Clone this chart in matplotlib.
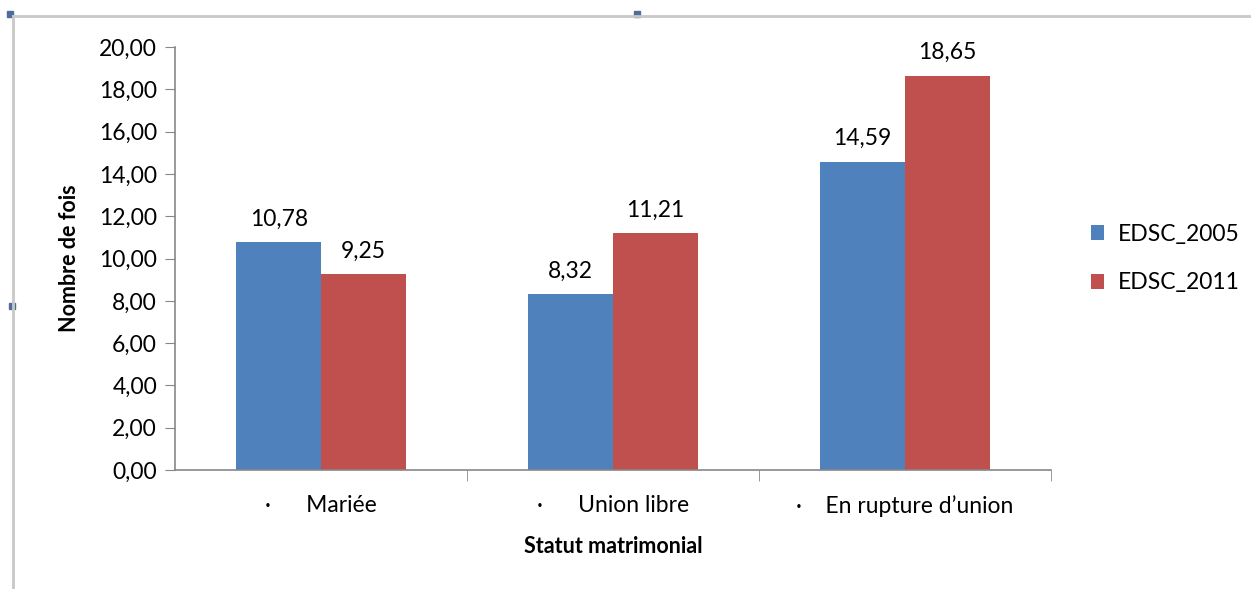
import numpy as np
import matplotlib.pyplot as plt
from matplotlib.lines import Line2D
from matplotlib.patches import Rectangle

categories = ["·      Mariée", "·      Union libre", "·    En rupture d\u2019union"]
edsc_2005 = [10.78, 8.32, 14.59]
edsc_2011 = [9.25, 11.21, 18.65]
series_names = ["EDSC_2005", "EDSC_2011"]

plt.rcParams['font.family'] = ['Lato', 'DejaVu Sans']
fs = 16.5

fig = plt.figure(figsize=(12.51, 5.89), dpi=100)
ax = fig.add_axes([0.140, 0.202, 0.700, 0.718])

x = np.arange(len(categories))
w = 0.29
b1 = ax.bar(x - w / 2, edsc_2005, w, color="#4f81bd", label=series_names[0])
b2 = ax.bar(x + w / 2, edsc_2011, w, color="#c0504d", label=series_names[1])

for bars in (b1, b2):
    for r in bars:
        v = r.get_height()
        ax.annotate(f"{v:.2f}".replace(".", ","), (r.get_x() + r.get_width() / 2, v),
                    xytext=(0, 9), textcoords="offset points",
                    ha="center", va="bottom", fontsize=fs)

ax.set_xlim(-0.5, 2.5)
ax.set_ylim(0, 20)
ax.set_yticks(np.arange(0, 21, 2))
ax.set_yticklabels([f"{v:.2f}".replace(".", ",") for v in np.arange(0, 21, 2)], fontsize=fs)
ax.set_xticks(x)
ax.set_xticklabels(categories, fontsize=fs)
ax.tick_params(axis="x", length=0, pad=18)
ax.set_xticks([0.5, 1.5, 2.5], minor=True)
ax.tick_params(axis="x", which="minor", length=8, color="#878787", direction="out")
ax.tick_params(axis="y", length=7, color="#878787", direction="out", pad=6)

for s in ("top", "right"):
    ax.spines[s].set_visible(False)
for s in ("left", "bottom"):
    ax.spines[s].set_color("#878787")
    ax.spines[s].set_linewidth(1.2)

ax.set_ylabel("Nombre de fois", fontsize=15.5, fontweight="bold", labelpad=14)
ax.set_xlabel("Statut matrimonial", fontsize=15.5, fontweight="bold", labelpad=14)

ax.legend(loc="center left", bbox_to_anchor=(1.022, 0.5), frameon=False,
          fontsize=fs, handlelength=0.6, handleheight=0.6, handletextpad=0.6,
          labelspacing=1.2)

# cadre de l'objet graphique
fig.add_artist(Line2D([0.0105, 1.0], [0.972, 0.972], color="#c8c8c8", lw=2))
fig.add_artist(Line2D([0.0105, 0.0105], [0.0, 0.972], color="#c8c8c8", lw=2))
for px, py in [(10, 14), (637, 14), (12, 306)]:
    fig.add_artist(Rectangle((px / 1251 - 0.0025, 1 - py / 589 - 0.005), 0.005, 0.01,
                             color="#4f6d9a", transform=fig.transFigure))

fig.savefig("out.png", dpi=100)
